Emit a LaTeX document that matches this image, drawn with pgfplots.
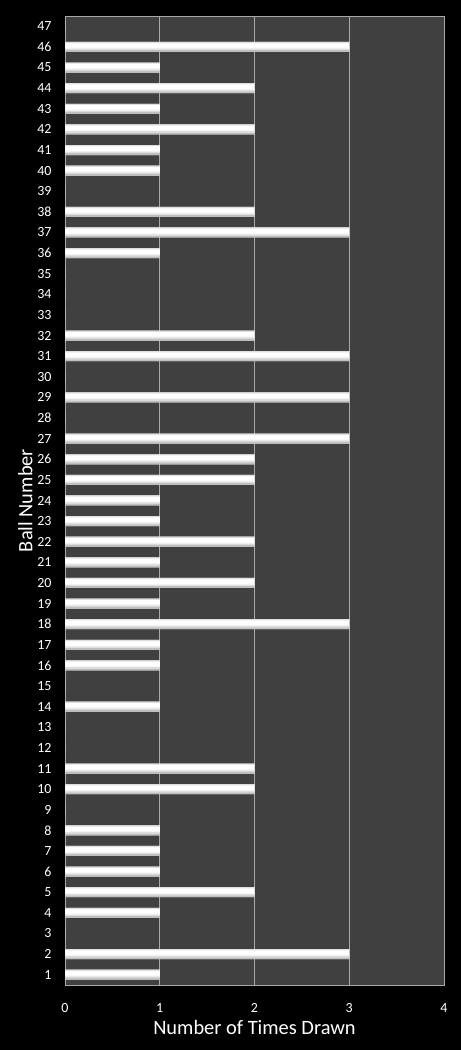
\documentclass[border=0pt]{standalone}
\usepackage{pgfplots}
\pgfplotsset{compat=1.18}
\usepackage{fontspec}
\setmainfont{Carlito}
\definecolor{plotbg}{HTML}{404040}
\definecolor{gridc}{HTML}{A8A8A8}

\pgfplotstableread{
ball n
1 1
2 3
3 0
4 1
5 2
6 1
7 1
8 1
9 0
10 2
11 2
12 0
13 0
14 1
15 0
16 1
17 1
18 3
19 1
20 2
21 1
22 2
23 1
24 1
25 2
26 2
27 3
28 0
29 3
30 0
31 3
32 2
33 0
34 0
35 0
36 1
37 3
38 2
39 0
40 1
41 1
42 2
43 1
44 2
45 1
46 3
47 0
}\draws

\begin{document}
\begin{tikzpicture}
  \fill[black] (0,0) rectangle (461bp,1050bp);
  \begin{axis}[
    at={(65bp,65bp)}, anchor=south west,
    scale only axis,
    width=379bp, height=969bp,
    xbar,
    xmin=0, xmax=4, ymin=0.5, ymax=47.5,
    xtick={0,1,2,3,4},
    ytick={1,...,47},
    major tick length=0pt,
    xmajorgrids=true,
    grid style={gridc, line width=0.6pt},
    axis background/.style={fill=plotbg},
    axis line style={gridc, line width=0.8pt},
    /pgf/number format/assume math mode=true,
    ticklabel style={white, font=\fontsize{14}{16}\selectfont},
    xticklabel style={yshift=-15bp},
    yticklabel style={xshift=-10bp},
    xlabel={Number of Times Drawn},
    ylabel={Ball Number},
    label style={white, font=\fontsize{20.5}{23}\selectfont},
    xlabel style={yshift=-1bp},
    ylabel style={yshift=-2bp},
  ]
    % white body of each bar, with grey strips to mimic the glossy shading
    \addplot[draw=none, fill=white, bar width=10bp, bar shift=0bp] table[x=n, y=ball]{\draws};
    \addplot[draw=none, fill=gray!25, bar width=1.2bp, bar shift=4.4bp] table[x=n, y=ball]{\draws};
    \addplot[draw=none, fill=gray!8, bar width=1bp, bar shift=-1.3bp] table[x=n, y=ball]{\draws};
    \addplot[draw=none, fill=gray!25, bar width=1.4bp, bar shift=-2.5bp] table[x=n, y=ball]{\draws};
    \addplot[draw=none, fill=gray!50, bar width=1.8bp, bar shift=-4.1bp] table[x=n, y=ball]{\draws};
  \end{axis}
\end{tikzpicture}
\end{document}
